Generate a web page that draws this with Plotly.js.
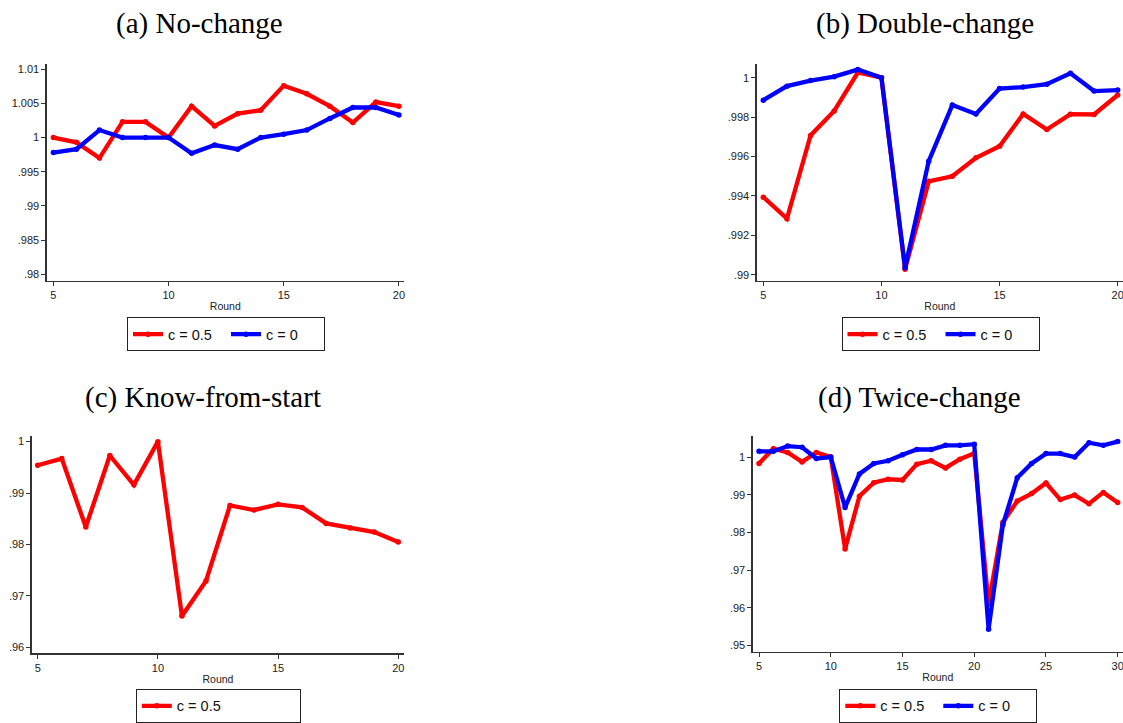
<!DOCTYPE html>
<html>
<head>
<meta charset="utf-8">
<script src="https://cdn.plot.ly/plotly-3.0.1.min.js"></script>
<style>html,body{margin:0;padding:0;background:#fff;}#chart{width:1123px;height:723px;}</style>
</head>
<body>
<div id="chart"></div>
<script>
// ---- data ----
const rounds20 = [5,6,7,8,9,10,11,12,13,14,15,16,17,18,19,20];
const rounds30 = [5,6,7,8,9,10,11,12,13,14,15,16,17,18,19,20,21,22,23,24,25,26,27,28,29,30];

const titles = ["(a) No-change", "(b) Double-change", "(c) Know-from-start", "(d) Twice-change"];
const seriesNames = ["c = 0.5", "c = 0"];
const xTitle = "Round";

// (a) No-change
const aHalf = [1.0000,0.9993,0.9970,1.0023,1.0023,1.0000,1.0046,1.0017,1.0035,1.0040,1.0076,1.0064,1.0046,1.0022,1.0052,1.0046];
const aZero = [0.9978,0.9983,1.0011,1.0000,1.0000,1.0000,0.9977,0.9989,0.9983,1.0000,1.0005,1.0011,1.0028,1.0044,1.0044,1.0033];
// (b) Double-change
const bHalf = [0.99394,0.99285,0.99707,0.99831,1.00026,1.0000,0.99028,0.99474,0.99500,0.99594,0.99652,0.99816,0.99737,0.99815,0.99813,0.99912];
const bZero = [0.99886,0.99957,0.99985,1.00005,1.00041,1.0000,0.99036,0.99576,0.99861,0.99816,0.99945,0.99952,0.99967,1.00022,0.99932,0.99937];
// (c) Know-from-start
const cHalf = [0.9954,0.9967,0.9834,0.9973,0.9916,1.0000,0.9661,0.9729,0.9876,0.9867,0.9878,0.9872,0.9841,0.9832,0.9824,0.9805];
// (d) Twice-change
const dHalf = [0.9983,1.0022,1.0012,0.9987,1.0012,1.0000,0.9756,0.9896,0.9932,0.9941,0.9939,0.9981,0.9990,0.9971,0.9994,1.0010,
               0.9610,0.9827,0.9883,0.9903,0.9931,0.9887,0.9899,0.9876,0.9906,0.9879];
const dZero = [1.0015,1.0015,1.0029,1.0026,0.9996,1.0000,0.9866,0.9955,0.9983,0.9990,1.0006,1.0020,1.0020,1.0031,1.0031,1.0034,
               0.9543,0.9820,0.9945,0.9983,1.0009,1.0009,1.0000,1.0038,1.0031,1.0041];

// tick labels
const xTicks20 = [5,10,15,20];
const xTicks30 = [5,10,15,20,25,30];
const aYVals = [1.01,1.005,1,0.995,0.99,0.985,0.98];
const aYText = ["1.01","1.005","1",".995",".99",".985",".98"];
const bYVals = [1,0.998,0.996,0.994,0.992,0.99];
const bYText = ["1",".998",".996",".994",".992",".99"];
const cYVals = [1,0.99,0.98,0.97,0.96];
const cYText = ["1",".99",".98",".97",".96"];
const dYVals = [1,0.99,0.98,0.97,0.96,0.95];
const dYText = ["1",".99",".98",".97",".96",".95"];

// ---- styling ----
const RED = "#ff0000", BLUE = "#0000ff";
const W = 1123, H = 723;
const px = v => v / W;
const py = v => 1 - v / H;

function tr(x, y, color, name, xa, ya, leg) {
  return {
    x: x, y: y, type: "scatter", mode: "lines+markers",
    line: {color: color, width: 4.3},
    marker: {color: color, size: 5.5},
    name: name, xaxis: xa, yaxis: ya, legend: leg,
    hoverinfo: "skip"
  };
}

const data = [
  tr(rounds20, aHalf, RED, seriesNames[0], "x", "y", "legend"),
  tr(rounds20, aZero, BLUE, seriesNames[1], "x", "y", "legend"),
  tr(rounds20, bHalf, RED, seriesNames[0], "x2", "y2", "legend2"),
  tr(rounds20, bZero, BLUE, seriesNames[1], "x2", "y2", "legend2"),
  tr(rounds20, cHalf, RED, seriesNames[0], "x3", "y3", "legend3"),
  tr(rounds30, dHalf, RED, seriesNames[0], "x4", "y4", "legend4"),
  tr(rounds30, dZero, BLUE, seriesNames[1], "x4", "y4", "legend4")
];

const tickFont = {family: "Liberation Sans, Arial, sans-serif", size: 11, color: "#222"};
function xax(domain, range, ticks, anchor) {
  return {
    domain: domain, range: range, anchor: anchor,
    tickmode: "array", tickvals: ticks, ticktext: ticks.map(String),
    ticks: "outside", ticklen: 4, tickwidth: 1, tickcolor: "#333",
    ticklabeloverflow: "allow",
    showline: true, linecolor: "#333", linewidth: 1.3, mirror: false,
    showgrid: false, zeroline: false, tickfont: tickFont,
    title: {text: xTitle, font: {family: "Liberation Sans, Arial, sans-serif", size: 10.5, color: "#222"}, standoff: 2},
    fixedrange: true
  };
}
function yax(domain, range, vals, text, anchor) {
  return {
    domain: domain, range: range, anchor: anchor,
    tickmode: "array", tickvals: vals, ticktext: text,
    ticks: "outside", ticklen: 4, tickwidth: 1, tickcolor: "#333",
    showline: true, linecolor: "#333", linewidth: 1.3,
    showgrid: false, zeroline: false, tickfont: tickFont,
    fixedrange: true
  };
}
function leg(xc, ytop, entryw) {
  return {
    orientation: "h", x: px(xc), xanchor: "center", y: py(ytop), yanchor: "top",
    bordercolor: "#222", borderwidth: 1, bgcolor: "#fff",
    font: {family: "Liberation Sans, Arial, sans-serif", size: 14.5, color: "#111"},
    tracegroupgap: 0, itemclick: false, itemdoubleclick: false,
    entrywidth: entryw, entrywidthmode: "pixels"
  };
}

const titleFont = {family: "Liberation Serif, Times New Roman, serif", size: 29, color: "#000"};
function ann(text, xc, yc) {
  return {text: text, xref: "paper", yref: "paper", x: px(xc), y: py(yc),
          xanchor: "center", yanchor: "middle", showarrow: false, font: titleFont};
}

const layout = {
  width: W, height: H,
  margin: {l: 0, r: 0, t: 0, b: 0},
  paper_bgcolor: "#fff", plot_bgcolor: "#fff",
  showlegend: true,
  xaxis:  xax([px(46.7), px(404)], [4.71, 20.22], xTicks20, "y"),
  yaxis:  yax([py(286.7), py(65)], [0.97904, 1.01082], aYVals, aYText, "x"),
  xaxis2: xax([px(756.7), 1], [4.72, 20.224], xTicks20, "y2"),
  yaxis2: yax([py(286.7), py(65)], [0.9897, 1.00071], bYVals, bYText, "x2"),
  xaxis3: xax([px(31.7), px(404.3)], [4.75, 20.25], xTicks20, "y3"),
  yaxis3: yax([py(667.3), py(445)], [0.9588, 1.00114], cYVals, cYText, "x3"),
  xaxis4: xax([px(752.7), 1], [4.56, 30.37], xTicks30, "y4"),
  yaxis4: yax([py(665.7), py(445)], [0.94826, 1.00564], dYVals, dYText, "x4"),
  legend:  leg(226, 324, 53),
  legend2: leg(940.5, 324, 53),
  legend3: leg(218.3, 703.5, 118),
  legend4: leg(938.3, 703.5, 53),
  annotations: [
    ann(titles[0], 199.5, 24),
    ann(titles[1], 925, 24),
    ann(titles[2], 203, 406),
    ann(titles[3], 919, 406)
  ]
};

Plotly.newPlot("chart", data, layout, {displayModeBar: false, staticPlot: true});
</script>
</body>
</html>
